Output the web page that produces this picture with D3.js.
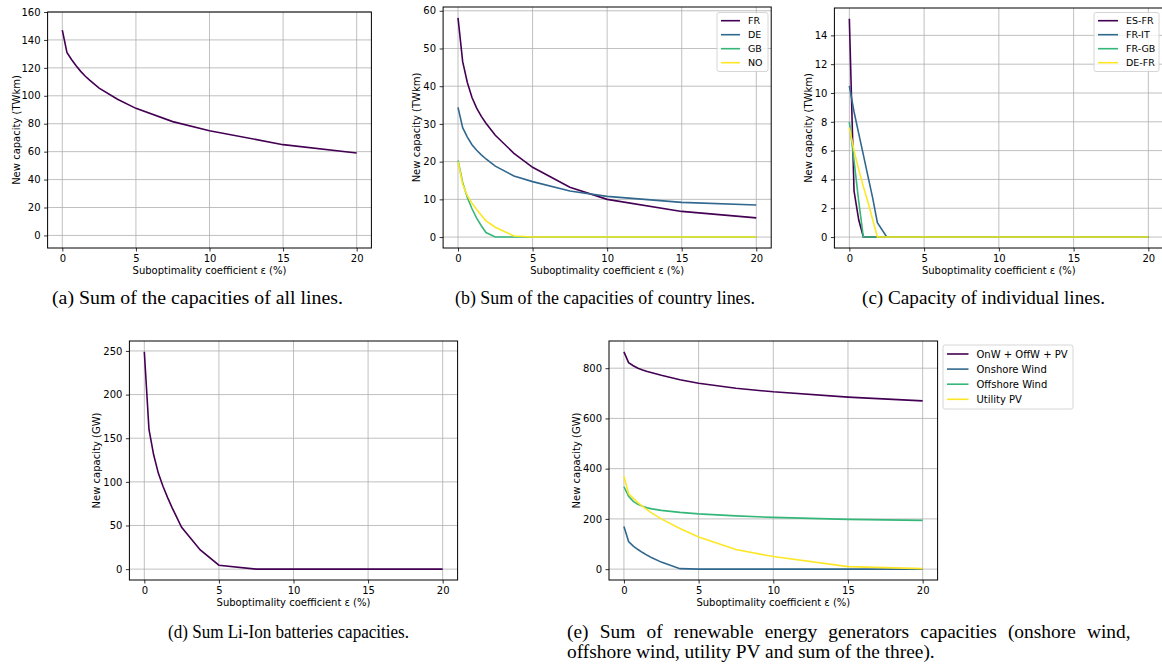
<!DOCTYPE html>
<html>
<head>
<meta charset="utf-8">
<script src="https://cdn.jsdelivr.net/npm/d3@7"></script>
<style>
  body { margin: 0; background: #fff; }
  text { font-family: "DejaVu Sans", sans-serif; }
  .caption { font-family: "Liberation Serif", "Times New Roman", serif; font-size: 18px; fill: #000; }
</style>
</head>
<body>
<script>
// suboptimality coefficients (%)
var eps = [0, 0.3125, 0.625, 0.9375, 1.25, 1.5625, 1.875, 2.5, 3.75, 5, 7.5, 10, 15, 20];

// (a) all lines, TWkm
var allLines = [147, 131, 126, 121.5, 117.5, 114, 111, 105.5, 97.5, 91, 81.5, 75, 65, 59];

// (b) country lines, TWkm
var countryNames = ["FR", "DE", "GB", "NO"];
var frLines = [58.1, 46.5, 41, 37, 34.2, 32, 30.2, 27, 22.2, 18.5, 13.2, 10, 6.8, 5.1];
var deLines = [34.4, 29, 26.5, 24.5, 23, 21.8, 20.7, 18.8, 16.2, 14.7, 12.2, 10.8, 9.2, 8.5];
var gbLines = [20.3, 14.5, 10.5, 7.5, 5, 3, 1.2, 0, 0, 0, 0, 0, 0, 0];
var noLines = [20, 14, 11, 9, 7.3, 5.8, 4.3, 2.6, 0.3, 0, 0, 0, 0, 0];

// (c) individual lines, TWkm
var lineNames = ["ES-FR", "FR-IT", "FR-GB", "DE-FR"];
var esfr = [15.15, 3.2, 1.2, 0, 0, 0, 0, 0, 0, 0, 0, 0, 0, 0];
var frit = [10.5, 8.7, 7.2, 5.7, 4.2, 2.7, 1.0, 0, 0, 0, 0, 0, 0, 0];
var frgb = [8.0, 5.3, 2.5, 0, 0, 0, 0, 0, 0, 0, 0, 0, 0, 0];
var defr = [7.6, 6.0, 4.7, 3.5, 2.4, 1.2, 0, 0, 0, 0, 0, 0, 0, 0];

// (d) Li-Ion batteries, GW
var batteries = [249, 160, 131, 110, 95, 82, 70, 48, 22, 4.5, 0, 0, 0, 0];

// (e) renewable generators, GW
var genNames = ["OnW + OffW + PV", "Onshore Wind", "Offshore Wind", "Utility PV"];
var renewTotal = [865, 822, 810, 800, 793, 787, 782, 772, 754, 740, 720, 706, 685, 670];
var onshore = [170, 110, 92, 78, 66, 55, 45, 28, 2, 0, 0, 0, 0, 0];
var offshore = [328, 290, 270, 258, 250, 244, 240, 234, 226, 220, 212, 206, 198, 194];
var utilityPV = [370, 300, 282, 265, 250, 236, 223, 200, 162, 128, 78, 50, 10, 2];

var xTicks = [0, 5, 10, 15, 20];
var colors = ["#440154", "#31688e", "#35b779", "#fde725"];

var svg = d3.select("body").append("svg")
    .attr("width", 1162)
    .attr("height", 665);

var clipId = 0;

function drawPanel(p) {
    var x = d3.scaleLinear().domain([-1, 21]).range([p.left, p.right]);
    var y = d3.scaleLinear().domain(p.yDomain).range([p.bottom, p.top]);
    var g = svg.append("g");

    // grid
    g.selectAll(".vgrid").data(xTicks).enter().append("line")
        .attr("x1", d => x(d)).attr("x2", d => x(d))
        .attr("y1", p.top).attr("y2", p.bottom)
        .attr("stroke", "#b0b0b0").attr("stroke-width", 0.8);
    g.selectAll(".hgrid").data(p.yTicks).enter().append("line")
        .attr("x1", p.left).attr("x2", p.right)
        .attr("y1", d => y(d)).attr("y2", d => y(d))
        .attr("stroke", "#b0b0b0").attr("stroke-width", 0.8);

    // clip for lines
    clipId++;
    svg.append("clipPath").attr("id", "clip" + clipId)
        .append("rect")
        .attr("x", p.left).attr("y", p.top)
        .attr("width", p.right - p.left).attr("height", p.bottom - p.top);

    var line = d3.line()
        .x((d, i) => x(eps[i]))
        .y(d => y(d));

    p.series.forEach(function(s, i) {
        g.append("path")
            .datum(s)
            .attr("clip-path", "url(#clip" + clipId + ")")
            .attr("fill", "none")
            .attr("stroke", colors[i])
            .attr("stroke-width", 1.6)
            .attr("d", line);
    });

    // axes
    var xAxis = g.append("g")
        .attr("transform", "translate(0," + p.bottom + ")")
        .call(d3.axisBottom(x).tickValues(xTicks).tickSize(3.5).tickPadding(3.5));
    var yAxis = g.append("g")
        .attr("transform", "translate(" + p.left + ",0)")
        .call(d3.axisLeft(y).tickValues(p.yTicks).tickSize(3.5).tickPadding(3.5));
    [xAxis, yAxis].forEach(function(a) {
        a.select(".domain").remove();
        a.selectAll("text").attr("font-family", "DejaVu Sans").attr("font-size", 10).attr("fill", "#000");
        a.selectAll("line").attr("stroke", "#000").attr("stroke-width", 0.8);
    });

    // frame
    g.append("rect")
        .attr("x", p.left).attr("y", p.top)
        .attr("width", p.right - p.left).attr("height", p.bottom - p.top)
        .attr("fill", "none").attr("stroke", "#000").attr("stroke-width", 1);

    // axis labels
    g.append("text")
        .attr("x", (p.left + p.right) / 2)
        .attr("y", p.bottom + 26)
        .attr("text-anchor", "middle")
        .attr("font-size", 10)
        .text("Suboptimality coefficient \u03b5 (%)");
    g.append("text")
        .attr("transform", "translate(" + p.ylabelX + "," + ((p.top + p.bottom) / 2) + ") rotate(-90)")
        .attr("text-anchor", "middle")
        .attr("dy", "0.35em")
        .attr("font-size", 10)
        .text(p.ylabel);

    // legend
    if (p.legend) {
        var L = p.legend;
        var lg = svg.append("g").attr("transform", "translate(" + L.x + "," + L.y + ")");
        lg.append("rect")
            .attr("width", L.w).attr("height", L.h)
            .attr("rx", 2)
            .attr("fill", "#fff").attr("fill-opacity", 0.8)
            .attr("stroke", "#cccccc").attr("stroke-width", 0.8);
        L.names.forEach(function(n, i) {
            var yy = L.row0 + i * L.step;
            lg.append("line")
                .attr("x1", 4).attr("x2", 4 + L.len)
                .attr("y1", yy).attr("y2", yy)
                .attr("stroke", colors[i]).attr("stroke-width", 1.6);
            lg.append("text")
                .attr("x", L.len + 12)
                .attr("y", yy)
                .attr("dy", "0.35em")
                .attr("font-size", L.fs)
                .attr("fill", "#000")
                .text(n);
        });
    }
}

drawPanel({
    left: 47.6, right: 371.4, top: 12, bottom: 248,
    yDomain: [-9, 160], yTicks: d3.range(0, 161, 20),
    series: [allLines],
    ylabel: "New capacity (TWkm)", ylabelX: 16
});

drawPanel({
    left: 443.1, right: 771.2, top: 7, bottom: 248,
    yDomain: [-2.9, 61.0], yTicks: d3.range(0, 61, 10),
    series: [frLines, deLines, gbLines, noLines],
    ylabel: "New capacity (TWkm)", ylabelX: 416.5,
    legend: { x: 717, y: 12.5, w: 51, h: 59, row0: 8.2, step: 14, len: 19, fs: 9.5, names: countryNames }
});

drawPanel({
    left: 834.4, right: 1163.3, top: 8, bottom: 248,
    yDomain: [-0.76, 15.9], yTicks: d3.range(0, 15, 2),
    series: [esfr, frit, frgb, defr],
    ylabel: "New capacity (TWkm)", ylabelX: 808,
    legend: { x: 1094, y: 12.5, w: 65, h: 59, row0: 8.2, step: 14, len: 20, fs: 9.5, names: lineNames }
});

drawPanel({
    left: 129.4, right: 457.6, top: 341, bottom: 580,
    yDomain: [-12.45, 261.4], yTicks: d3.range(0, 251, 50),
    series: [batteries],
    ylabel: "New capacity (GW)", ylabelX: 96.5
});

drawPanel({
    left: 609, right: 937.6, top: 341, bottom: 580,
    yDomain: [-43.25, 908.3], yTicks: d3.range(0, 801, 200),
    series: [renewTotal, onshore, offshore, utilityPV],
    ylabel: "New capacity (GW)", ylabelX: 576.5,
    legend: { x: 943, y: 345, w: 130, h: 64, row0: 9, step: 15.1, len: 21.5, fs: 10, names: genNames }
});

// captions (left edge and width as in the figure)
var caps = [
    { t: "(a) Sum of the capacities of all lines.", x: 52, w: 291, y: 304 },
    { t: "(b) Sum of the capacities of country lines.", x: 455, w: 300, y: 304 },
    { t: "(c) Capacity of individual lines.", x: 862, w: 243, y: 304 },
    { t: "(d) Sum Li-Ion batteries capacities.", x: 168, w: 241, y: 638 }
];
caps.forEach(function(c) {
    svg.append("text").attr("class", "caption")
        .attr("x", c.x).attr("y", c.y)
        .attr("textLength", c.w)
        .attr("lengthAdjust", "spacingAndGlyphs")
        .text(c.t);
});

// caption (e): two lines, first one justified, same horizontal stretch
var e2 = svg.append("text").attr("class", "caption")
    .text("offshore wind, utility PV and sum of the three).");
var k = 368 / e2.node().getComputedTextLength();
e2.attr("transform", "translate(567,658) scale(" + k + ",1)");

var e1 = svg.append("text").attr("class", "caption")
    .text("(e) Sum of renewable energy generators capacities (onshore wind,");
var natural = e1.node().getComputedTextLength();
var nSpaces = e1.text().split(" ").length - 1;
e1.attr("transform", "translate(567,638) scale(" + k + ",1)")
  .attr("word-spacing", Math.max(0, (564 / k - natural) / nSpaces));
</script>
</body>
</html>
